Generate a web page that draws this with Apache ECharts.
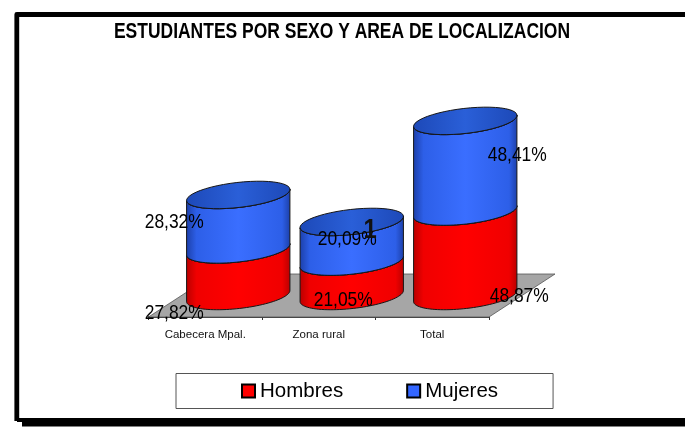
<!DOCTYPE html>
<html><head><meta charset="utf-8">
<style>html,body{margin:0;padding:0;background:#fff}#c{width:685px;height:428px}</style>
<script src="https://cdn.jsdelivr.net/npm/echarts@6/dist/echarts.min.js"></script>
</head><body><div id="c"></div>
<script>
const categories = ['Cabecera Mpal.', 'Zona rural', 'Total'];
const hombres = [27.82, 21.05, 48.87];
const mujeres = [28.32, 20.09, 48.41];
const titleText = 'ESTUDIANTES POR SEXO Y AREA DE LOCALIZACION';
const stray = '1';

const FONT = '"Liberation Sans",Arial,sans-serif';
const chart = echarts.init(document.getElementById('c'), null, {renderer:'canvas'});
const DX = 33, DY = -21, RX = 52, RY = 12.5, TILT = -6.5 * Math.PI / 180, SEAM_DROP = 3.5;
const fmt = v => v.toFixed(2).replace('.', ',') + '%';
// label anchors relative to the cylinder's base centre
const hOff = [[-64, 17], [-8.5, 4], [54, 0]];
const mOff = [[-64, -74], [-4.5, -57], [52, -141]];

function ellipsePts(cx, cy, from, to) {
  const pts = [];
  const n = 48;
  for (let i = 0; i <= n; i++) {
    const t = from + (to - from) * i / n;
    const x = RX * Math.cos(t), y = RY * Math.sin(t);
    pts.push([cx + x * Math.cos(TILT) - y * Math.sin(TILT), cy + x * Math.sin(TILT) + y * Math.cos(TILT)]);
  }
  return pts;
}
function sideGrad(base, hi, dark) {
  return new echarts.graphic.LinearGradient(0, 0, 1, 0, [
    {offset: 0, color: dark}, {offset: .1, color: base}, {offset: .5, color: hi},
    {offset: .92, color: base}, {offset: 1, color: dark}]);
}
function cylinder(cx, y0, y1, base, hi, dark, withTop) {
  const lower = ellipsePts(cx, y0, 0, Math.PI);
  const upper = ellipsePts(cx, y1, Math.PI, 0);
  const kids = [{
    type: 'polygon', shape: {points: lower.concat(upper)},
    style: {fill: sideGrad(base, hi, dark), stroke: '#161616', lineWidth: 1}
  }, {
    type: 'polyline', shape: {points: ellipsePts(cx, y1, 0, Math.PI)},
    style: {fill: null, stroke: '#161616', lineWidth: 1}
  }];
  if (withTop) kids.push({
    type: 'polygon', shape: {points: ellipsePts(cx, y1, 0, Math.PI * 2)},
    style: {fill: new echarts.graphic.LinearGradient(0, 0, 1, 0, [
      {offset: 0, color: '#1d49b8'}, {offset: .5, color: '#2a5fd8'}, {offset: 1, color: '#1d49b8'}]),
      stroke: '#161616', lineWidth: 1}
  });
  return kids;
}
function valueLabel(v, x, y) {
  return {type: 'text', x: x, y: y, scaleX: 0.83, z2: 20,
    style: {text: fmt(v), x: 0, y: 0, align: 'center', verticalAlign: 'middle', font: '21px ' + FONT, fill: '#000'}};
}
const option = {
  animation: false,
  backgroundColor: '#fff',
  legend: {
    left: 176, top: 373.5, padding: [7, 55, 7, 65],
    itemGap: 63, itemWidth: 13, itemHeight: 13, borderColor: '#555', borderWidth: 1,
    data: [{name: 'Hombres', itemStyle: {color: '#ff0000', borderColor: '#000', borderWidth: 2}},
           {name: 'Mujeres', itemStyle: {color: '#3366ff', borderColor: '#000', borderWidth: 2}}],
    textStyle: {fontFamily: FONT, fontSize: 20.5, color: '#000'},
    icon: 'rect', selectedMode: false
  },
  grid: {left: 148.5, width: 340.5, top: 137, height: 180},
  xAxis: {type: 'category', data: categories, boundaryGap: true,
    axisLine: {lineStyle: {color: '#000', width: 1.5}},
    axisTick: {show: true, length: 3, lineStyle: {color: '#333'}},
    axisLabel: {fontFamily: FONT, fontSize: 11.5, color: '#111', margin: 11.5, interval: 0}},
  yAxis: {type: 'value', min: 0, max: 100, show: false},
  series: [{
    type: 'custom', name: 'Plano', coordinateSystem: 'cartesian2d', clip: false, silent: true, z: 1,
    data: [[0]],
    renderItem: (p, api) => {
      const a = api.coord([0, 0]);
      const x0 = p.coordSys.x, x1 = p.coordSys.x + p.coordSys.width, y = a[1];
      const depX = DX * 2, depY = DY * 2 - 1;
      return {type: 'polygon', shape: {points: [[x0, y], [x1, y], [x1 + depX, y + depY], [x0 + depX, y + depY]]},
        style: {fill: '#a6a6a6', stroke: '#555', lineWidth: 0.8}};
    }
  }, {
    type: 'custom', name: 'Hombres', coordinateSystem: 'cartesian2d', clip: false, silent: true, z: 2,
    itemStyle: {color: '#ff0000'},
    data: hombres.map((v, i) => [i, v]),
    renderItem: (p, api) => {
      const i = api.value(0), v = api.value(1);
      const b = api.coord([i, 0]), t = api.coord([i, v]);
      const cx = b[0] + DX, y0 = b[1] + DY, y1 = t[1] + DY + SEAM_DROP;
      return {type: 'group', children: cylinder(cx, y0, y1, '#f00000', '#ff0000', '#b80000', false)
        .concat([valueLabel(v, cx + hOff[i][0], y0 + hOff[i][1])])};
    }
  }, {
    type: 'custom', name: 'Mujeres', coordinateSystem: 'cartesian2d', clip: false, silent: true, z: 3,
    itemStyle: {color: '#3366ff'},
    data: mujeres.map((v, i) => [i, v, hombres[i]]),
    renderItem: (p, api) => {
      const i = api.value(0), v = api.value(1), h = api.value(2);
      const b = api.coord([i, h]), t = api.coord([i, h + v]), o = api.coord([i, 0]);
      const cx = b[0] + DX, y0 = b[1] + DY + SEAM_DROP, y1 = t[1] + DY, base = o[1] + DY;
      return {type: 'group', children: cylinder(cx, y0, y1, '#2d5fe8', '#3a6eff', '#1c3fa8', true)
        .concat([valueLabel(v, cx + mOff[i][0], base + mOff[i][1])])};
    }
  }],
  graphic: [
    {type: 'polyline', silent: true, z: 100,
     shape: {points: [[685, 14.5], [16.8, 14.5], [16.8, 421]]},
     style: {fill: null, stroke: '#000', lineWidth: 4.8, lineJoin: 'round'}},
    {type: 'rect', silent: true, z: 100, shape: {x: 17, y: 418, width: 668, height: 4}, style: {fill: '#000'}},
    {type: 'rect', silent: true, z: 100, shape: {x: 22, y: 418, width: 663, height: 8.4}, style: {fill: '#000'}},
    {type: 'text', silent: true, z: 90, x: 342, y: 32, scaleX: 0.794,
     style: {text: titleText, align: 'center', verticalAlign: 'middle', font: 'bold 22px ' + FONT, fill: '#000'}},
    {type: 'text', silent: true, z: 90, x: 370, y: 230, scaleX: 0.85,
     style: {text: stray, align: 'center', verticalAlign: 'middle', font: 'bold 28px ' + FONT, fill: '#111'}}
  ]
};
chart.setOption(option);
</script></body></html>
